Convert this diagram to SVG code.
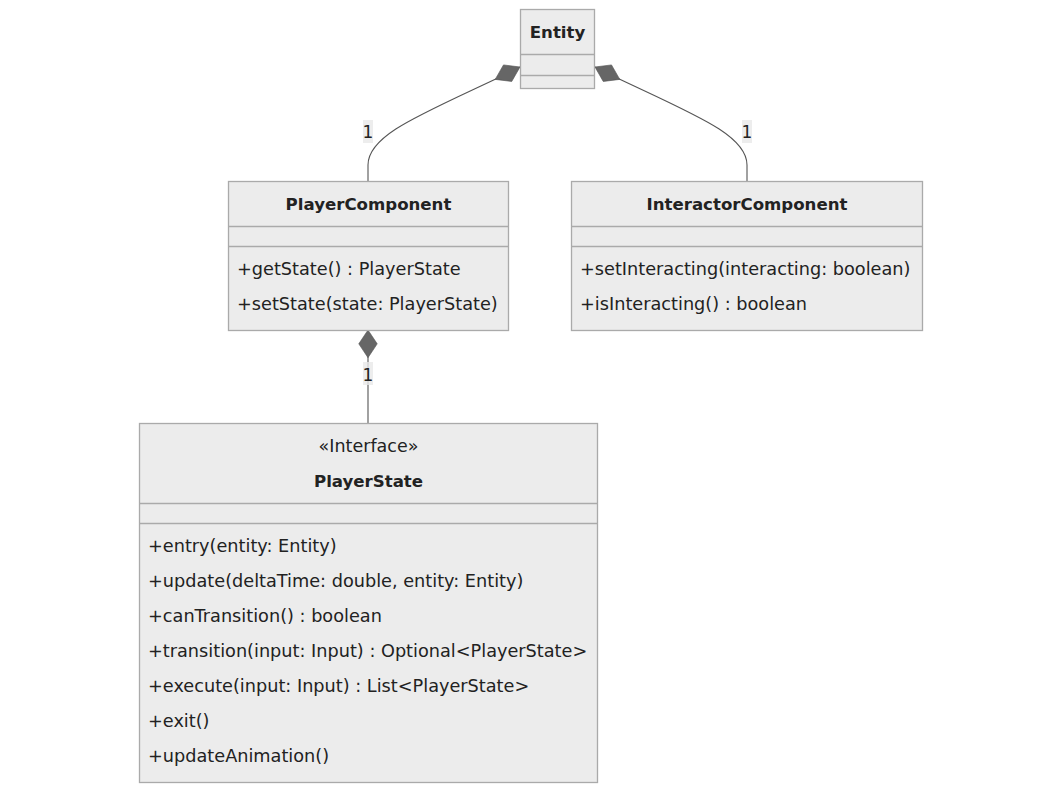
<svg xmlns="http://www.w3.org/2000/svg" width="1063" height="793" viewBox="0 0 1063 793">
<style>
.box{fill:#ececec;stroke:#aaaaaa;stroke-width:1.3}
.div{stroke:#aaaaaa;stroke-width:1.3}
text{font-family:"DejaVu Sans",Verdana,sans-serif;font-size:17.7px;fill:#222;dominant-baseline:central}
.title{text-anchor:middle;font-weight:bold;font-size:16.6px}
.ster{text-anchor:middle;font-size:17.5px}
.edge{fill:none;stroke:#555;stroke-width:1.1}
.lblbg{fill:#e8e8e8;opacity:0.8}
.lbl{text-anchor:middle;font-size:17px}
</style>
<defs>
<marker id="comp" markerUnits="userSpaceOnUse" markerWidth="30" markerHeight="20" refX="0" refY="8" orient="auto" viewBox="0 0 26 16">
<path d="M0,8 L12,0 L24,8 L12,16 Z" fill="#666" stroke="#555" stroke-width="0.5"/>
</marker>
</defs>
<g id="connectors">
<path class="edge" d="M520,67 L500,77 C420,115 368,135 368,165 L368,181" marker-start="url(#comp)"/>
<path class="edge" d="M595,67 L615,77 C695,115 747,135 747,165 L747,181" marker-start="url(#comp)"/>
<path class="edge" d="M368,330 L368,423" marker-start="url(#comp)"/>
<rect class="lblbg" x="363" y="120" width="10" height="23"/>
<text class="lbl" x="368" y="132">1</text>
<rect class="lblbg" x="742" y="120" width="10" height="23"/>
<text class="lbl" x="747" y="132">1</text>
<rect class="lblbg" x="363" y="362" width="10" height="23"/>
<text class="lbl" x="368" y="375">1</text>
</g>
<g id="Entity">
<rect class="box" x="520.5" y="9.5" width="74" height="79"/>
<line class="div" x1="520.5" y1="54.5" x2="594.5" y2="54.5"/>
<line class="div" x1="520.5" y1="75.5" x2="594.5" y2="75.5"/>
<text class="title" x="557.5" y="32">Entity</text>
</g>
<g id="PlayerComponent">
<rect class="box" x="228.5" y="181.5" width="280" height="149"/>
<line class="div" x1="228.5" y1="226.5" x2="508.5" y2="226.5"/>
<line class="div" x1="228.5" y1="246.5" x2="508.5" y2="246.5"/>
<text class="title" x="368.5" y="204">PlayerComponent</text>
<text x="237" y="269">+getState() : PlayerState</text>
<text x="237" y="304">+setState(state: PlayerState)</text>
</g>
<g id="InteractorComponent">
<rect class="box" x="571.5" y="181.5" width="351" height="149"/>
<line class="div" x1="571.5" y1="226.5" x2="922.5" y2="226.5"/>
<line class="div" x1="571.5" y1="246.5" x2="922.5" y2="246.5"/>
<text class="title" x="747" y="204">InteractorComponent</text>
<text x="580" y="269">+setInteracting(interacting: boolean)</text>
<text x="580" y="304">+isInteracting() : boolean</text>
</g>
<g id="PlayerState">
<rect class="box" x="139.5" y="423.5" width="458" height="359"/>
<line class="div" x1="139.5" y1="503.5" x2="597.5" y2="503.5"/>
<line class="div" x1="139.5" y1="523.5" x2="597.5" y2="523.5"/>
<text class="ster" x="368.5" y="446">«Interface»</text>
<text class="title" x="368.5" y="481">PlayerState</text>
<text x="148" y="546">+entry(entity: Entity)</text>
<text x="148" y="581">+update(deltaTime: double, entity: Entity)</text>
<text x="148" y="616">+canTransition() : boolean</text>
<text x="148" y="651">+transition(input: Input) : Optional&lt;PlayerState&gt;</text>
<text x="148" y="686">+execute(input: Input) : List&lt;PlayerState&gt;</text>
<text x="148" y="721">+exit()</text>
<text x="148" y="756">+updateAnimation()</text>
</g>
</svg>
